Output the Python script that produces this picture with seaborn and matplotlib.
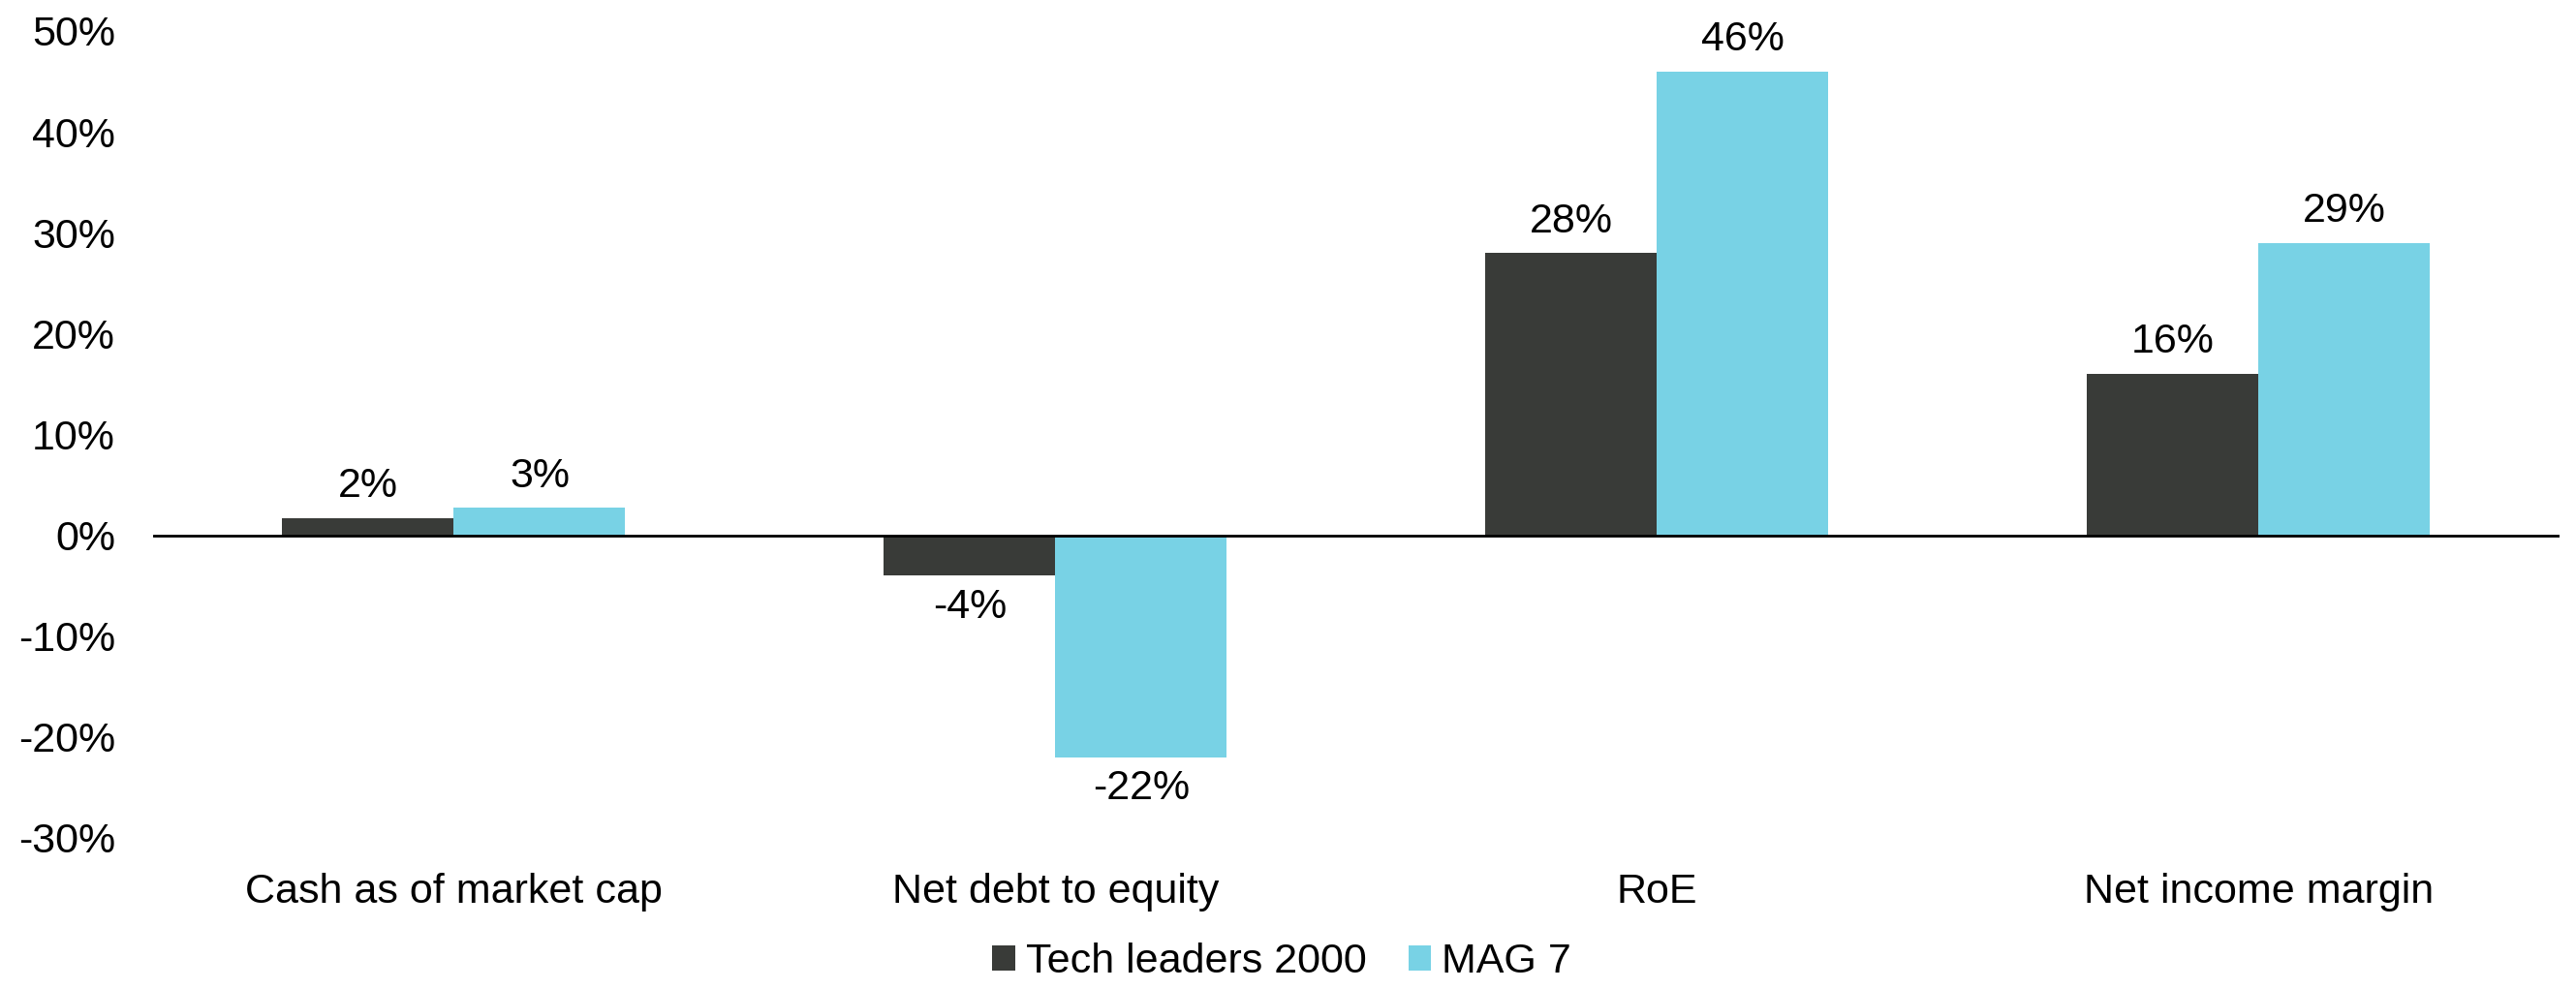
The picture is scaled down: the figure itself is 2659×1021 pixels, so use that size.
import pandas as pd
import seaborn as sns
import matplotlib.pyplot as plt

# DATA ─────────────────────────────────────────────────────────────────────────
categories = ["Cash as of market cap", "Net debt to equity", "RoE", "Net income margin"]
series = ["Tech leaders 2000", "MAG 7"]
tech_2000 = [1.7, -4.0, 28.0, 16.0]
mag7 = [2.7, -22.0, 46.0, 29.0]
y_ticks = [-30, -20, -10, 0, 10, 20, 30, 40, 50]

df = pd.DataFrame({
    "category": categories * 2,
    "series": [series[0]] * 4 + [series[1]] * 4,
    "value": tech_2000 + mag7,
})

# STYLE ────────────────────────────────────────────────────────────────────────
sns.set_style("white")
plt.rcParams["font.family"] = ["Liberation Sans", "DejaVu Sans"]
plt.rcParams["text.color"] = "black"
plt.rcParams["xtick.color"] = "black"
plt.rcParams["ytick.color"] = "black"
palette = {"Tech leaders 2000": "#393b38", "MAG 7": "#78d2e5"}
FS = 31

fig = plt.figure(figsize=(26.59, 10.21), dpi=100)
ax = fig.add_axes([0.0594, 0.1528, 0.9342, 0.8159])

sns.barplot(data=df, x="category", y="value", hue="series",
            palette=palette, width=0.57, saturation=1, linewidth=0,
            order=categories, hue_order=series, ax=ax)

# labels on bars
for cont in ax.containers:
    vals = cont.datavalues
    ax.bar_label(cont, labels=[f"{v:.0f}%" for v in vals],
                 padding=9, fontsize=FS, color="black")

ax.axhline(0, color="black", lw=2)
ax.set_ylim(-30, 50)
ax.set_yticks(y_ticks)
ax.set_yticklabels([f"{t}%" for t in y_ticks], fontsize=FS)
ax.tick_params(axis="y", length=0, pad=28, labelcolor="black")
ax.tick_params(axis="x", length=0, pad=26, labelsize=FS, labelcolor="black")
ax.set_xlabel("")
ax.set_ylabel("")
sns.despine(ax=ax, left=True, bottom=True)

ax.legend_.remove()
handles, labels = ax.get_legend_handles_labels()
fig.legend(handles, labels, loc="center", bbox_to_anchor=(0.4976, 0.027),
           ncol=2, frameon=False, fontsize=FS, handlelength=0.55,
           handleheight=0.55, handletextpad=0.25, columnspacing=1.0,
           labelcolor="black")

fig.savefig("out.png", dpi=100)
